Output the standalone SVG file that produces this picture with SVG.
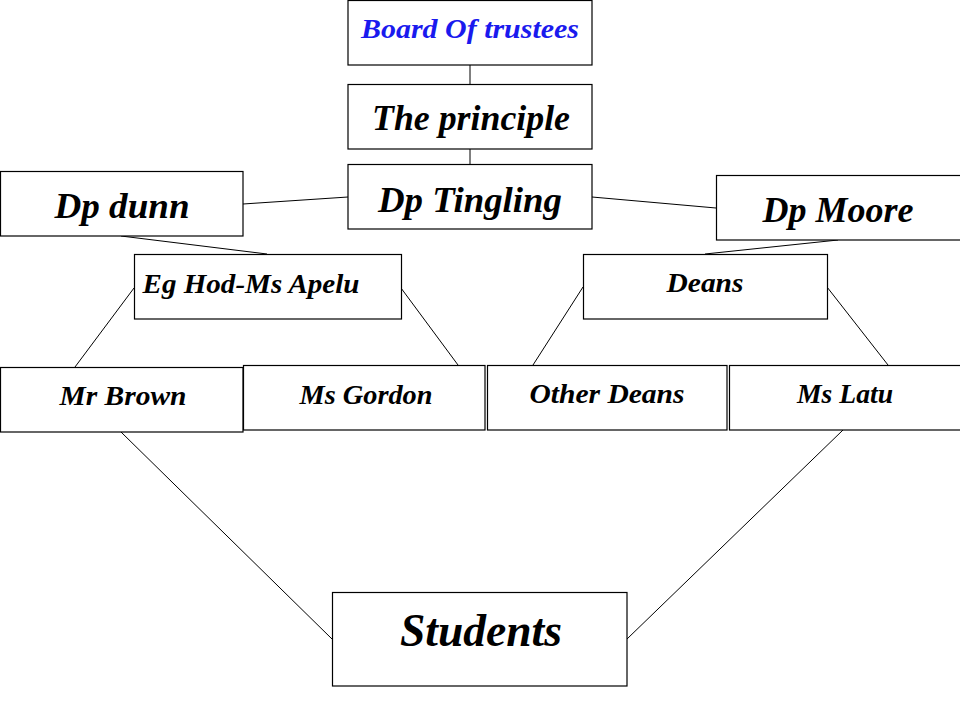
<svg xmlns="http://www.w3.org/2000/svg" width="960" height="720" viewBox="0 0 960 720">
<style>
.box{fill:#fff;stroke:#000;stroke-width:1.2}
.t{font-family:"Liberation Serif","DejaVu Serif",serif;font-weight:bold;font-style:italic;fill:#000;text-anchor:middle}
.s{font-size:28px}
.m{font-size:36px}
.l{font-size:46px}
.c{stroke:#000;stroke-width:1;fill:none}
</style>
<rect width="960" height="720" fill="#fff"/>
<g id="connectors">
<line class="c" x1="470" y1="65" x2="470" y2="84"/>
<line class="c" x1="470" y1="149" x2="470" y2="164"/>
<line class="c" x1="348" y1="197" x2="243" y2="204"/>
<line class="c" x1="592" y1="197" x2="716" y2="208"/>
<line class="c" x1="121" y1="236" x2="267" y2="254"/>
<line class="c" x1="838" y1="240" x2="705" y2="254"/>
<line class="c" x1="134" y1="288" x2="75" y2="367"/>
<line class="c" x1="401" y1="288" x2="458" y2="365"/>
<line class="c" x1="583" y1="287" x2="533" y2="365"/>
<line class="c" x1="827" y1="287" x2="888" y2="365"/>
<line class="c" x1="121" y1="432" x2="332" y2="639"/>
<line class="c" x1="843" y1="430" x2="627" y2="639"/>
</g>
<g id="board"><rect class="box" x="348" y="0.5" width="244" height="64.5"/><text class="t s" x="470" y="38" fill="#0000ee" style="fill:#1a1aee" textLength="218" lengthAdjust="spacingAndGlyphs">Board Of trustees</text></g>
<g id="principle"><rect class="box" x="348" y="84.5" width="244" height="64.5"/><text class="t m" x="471" y="130" textLength="198" lengthAdjust="spacingAndGlyphs">The principle</text></g>
<g id="tingling"><rect class="box" x="348" y="164.5" width="244" height="64.5"/><text class="t m" x="470" y="212" textLength="184" lengthAdjust="spacingAndGlyphs">Dp Tingling</text></g>
<g id="dunn"><rect class="box" x="0.5" y="171.5" width="242.5" height="64.5"/><text class="t m" x="122" y="218" textLength="135" lengthAdjust="spacingAndGlyphs">Dp dunn</text></g>
<g id="moore"><rect class="box" x="716.5" y="175.5" width="250" height="64.5"/><text class="t m" x="838" y="222" textLength="151" lengthAdjust="spacingAndGlyphs">Dp Moore</text></g>
<g id="eghod"><rect class="box" x="134.5" y="254.5" width="267" height="64.5"/><text class="t s" x="251" y="293" textLength="217" lengthAdjust="spacingAndGlyphs">Eg Hod-Ms Apelu</text></g>
<g id="deans"><rect class="box" x="583.5" y="254.5" width="244" height="64.5"/><text class="t s" x="705" y="292" textLength="77" lengthAdjust="spacingAndGlyphs">Deans</text></g>
<g id="brown"><rect class="box" x="0.5" y="367.5" width="242.5" height="64.5"/><text class="t s" x="123" y="405" textLength="127" lengthAdjust="spacingAndGlyphs">Mr Brown</text></g>
<g id="gordon"><rect class="box" x="243.5" y="365.5" width="241.5" height="64.5"/><text class="t s" x="366" y="404" textLength="133" lengthAdjust="spacingAndGlyphs">Ms Gordon</text></g>
<g id="otherdeans"><rect class="box" x="487.5" y="365.5" width="239.5" height="64.5"/><text class="t s" x="607" y="403" textLength="155" lengthAdjust="spacingAndGlyphs">Other Deans</text></g>
<g id="latu"><rect class="box" x="729.5" y="365.5" width="240" height="64.5"/><text class="t s" x="845" y="403" textLength="96" lengthAdjust="spacingAndGlyphs">Ms Latu</text></g>
<g id="students"><rect class="box" x="332.5" y="592.5" width="294.5" height="93.5"/><text class="t l" x="481" y="646" textLength="162" lengthAdjust="spacingAndGlyphs">Students</text></g>
</svg>
